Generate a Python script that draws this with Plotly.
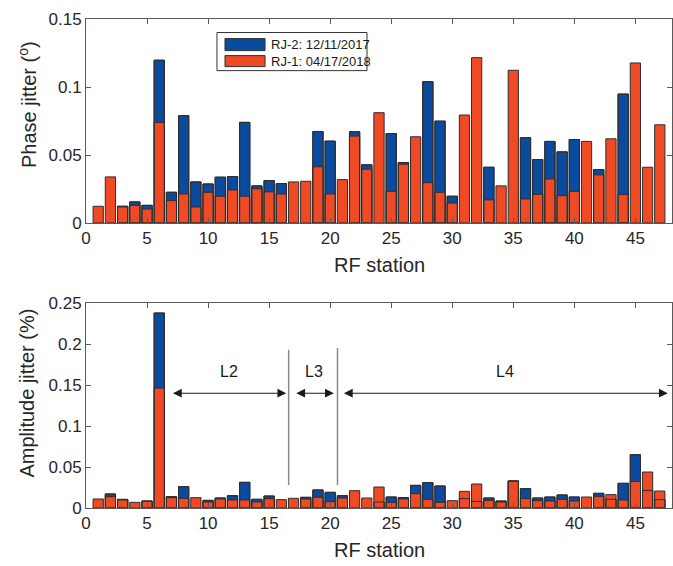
import plotly.graph_objects as go

# RF station numbers
stations = list(range(1, 48))

# Phase jitter (deg) per RF station
phase_rj2 = [None, None, 0.0123, 0.0155, 0.0130, 0.1197, 0.0226, 0.0789, 0.0302, 0.0287,
             0.0337, 0.0342, 0.0740, 0.0273, 0.0312, 0.0290, None, None, 0.0673, 0.0602,
             None, 0.0671, 0.0428, None, 0.0658, 0.0445, None, 0.1039, 0.0749, 0.0197,
             None, None, 0.0410, None, None, 0.0627, 0.0467, 0.0600, 0.0523, 0.0614,
             None, 0.0393, None, 0.0948, None, None, None]
phase_rj1 = [0.0123, 0.0339, 0.0118, 0.0130, 0.0103, 0.0740, 0.0165, 0.0214, 0.0118, 0.0226,
             0.0197, 0.0243, 0.0197, 0.0251, 0.0229, 0.0214, 0.0302, 0.0307, 0.0413, 0.0214,
             0.0319, 0.0639, 0.0396, 0.0811, 0.0233, 0.0432, 0.0634, 0.0297, 0.0226, 0.0147,
             0.0794, 0.1216, 0.0170, 0.0273, 0.1123, 0.0177, 0.0211, 0.0324, 0.0201, 0.0233,
             0.0600, 0.0354, 0.0619, 0.0209, 0.1177, 0.0410, 0.0722]

# Amplitude jitter (%) per RF station
amp_rj2 = [None, 0.0171, 0.0105, None, 0.0085, 0.2378, 0.0138, 0.0260, None, 0.0093,
           0.0122, 0.0150, 0.0313, 0.0106, 0.0146, None, None, 0.0130, 0.0220, 0.0191,
           0.0150, None, None, 0.0073, 0.0134, 0.0126, 0.0276, 0.0309, 0.0268, None,
           0.0114, 0.0081, 0.0122, 0.0085, 0.0325, 0.0236, 0.0122, 0.0134, 0.0159, 0.0134,
           None, 0.0179, 0.0106, 0.0301, 0.0650, 0.0215, 0.0102]
amp_rj1 = [0.0110, 0.0138, 0.0098, 0.0069, 0.0081, 0.1463, 0.0126, 0.0118, 0.0126, 0.0073,
           0.0110, 0.0098, 0.0098, 0.0073, 0.0114, 0.0102, 0.0118, 0.0110, 0.0130, 0.0077,
           0.0122, 0.0211, 0.0122, 0.0256, 0.0069, 0.0110, 0.0175, 0.0106, 0.0069, 0.0089,
           0.0203, 0.0293, 0.0093, 0.0073, 0.0333, 0.0114, 0.0089, 0.0085, 0.0106, 0.0085,
           0.0134, 0.0142, 0.0163, 0.0098, 0.0325, 0.0439, 0.0207]

label_rj2 = "RJ-2: 12/11/2017"
label_rj1 = "RJ-1: 04/17/2018"

# linac sections: name, arrow ends (station units), arrow height
section_names = ["L2", "L3", "L4"]
section_start = [7.0, 17.1, 21.0]
section_end = [16.4, 20.3, 47.65]
section_level = 0.14
# section boundaries
boundary_x = [16.6, 20.6]

BLUE = "#0a4b9f"
ORANGE = "#ef4a23"
EDGE = "#2e2e2e"
AXC = "#5a5a5a"
INK = "#1a1a1a"
TXT = "#262626"
FONT = "Liberation Sans, Arial, Helvetica, sans-serif"
BAR_W = 0.84

fig = go.Figure()


def add_pair(rj2, rj1, xa, ya):
    fig.add_trace(go.Bar(x=stations, y=rj2, width=BAR_W, name=label_rj2, xaxis=xa, yaxis=ya,
                         marker=dict(color=BLUE, line=dict(color=EDGE, width=1)),
                         showlegend=False))
    fig.add_trace(go.Bar(x=stations, y=rj1, width=BAR_W, name=label_rj1, xaxis=xa, yaxis=ya,
                         marker=dict(color=ORANGE, line=dict(color=EDGE, width=1)),
                         showlegend=False))
    # outline of the RJ-2 bars kept visible over the RJ-1 faces
    fig.add_trace(go.Bar(x=stations, y=rj2, width=BAR_W, hoverinfo="skip", xaxis=xa, yaxis=ya,
                         marker=dict(color="rgba(0,0,0,0)", line=dict(color=EDGE, width=1)),
                         showlegend=False))


add_pair(phase_rj2, phase_rj1, "x", "y")
add_pair(amp_rj2, amp_rj1, "x2", "y2")

axis_common = dict(showline=True, mirror="ticks", linecolor=AXC, linewidth=1,
                   ticks="inside", ticklen=5, tickcolor=AXC, showgrid=False,
                   zeroline=False, tickfont=dict(family=FONT, size=17, color=TXT))

fig.update_layout(
    barmode="overlay",
    width=673, height=566,
    margin=dict(l=86, r=1, t=19, b=58),
    paper_bgcolor="white", plot_bgcolor="white",
    font=dict(family=FONT, color=TXT),
    xaxis=dict(domain=[0, 1], range=[0, 48], tickmode="linear", tick0=0, dtick=5,
               anchor="y", **axis_common),
    yaxis=dict(domain=[0.5828, 1], range=[0, 0.15], tickvals=[0, 0.05, 0.1, 0.15],
               ticktext=["0", "0.05", "0.1", "0.15"], anchor="x", **axis_common),
    xaxis2=dict(domain=[0, 1], range=[0, 48], tickmode="linear", tick0=0, dtick=5,
                anchor="y2", **axis_common),
    yaxis2=dict(domain=[0, 0.4192], range=[0, 0.25], tickvals=[0, 0.05, 0.1, 0.15, 0.2, 0.25],
                ticktext=["0", "0.05", "0.1", "0.15", "0.2", "0.25"], anchor="x2",
                **axis_common),
)

ann = []
# axis titles
for yy in (0.5828, 0.0):
    ann.append(dict(text="RF station", xref="paper", yref="paper", x=0.5, y=yy,
                    yshift=-42, xanchor="center", yanchor="middle", showarrow=False,
                    font=dict(family=FONT, size=20, color=TXT)))
ann.append(dict(text="Phase jitter (<sup>o</sup>)", xref="paper", yref="y domain",
                x=-0.1, y=0.58, xanchor="center", yanchor="middle",
                textangle=-90, showarrow=False,
                font=dict(family=FONT, size=20, color=TXT)))
ann.append(dict(text="Amplitude jitter (%)", xref="paper", yref="y2 domain",
                x=-0.1, y=0.56, xanchor="center", yanchor="middle",
                textangle=-90, showarrow=False,
                font=dict(family=FONT, size=20, color=TXT)))

# section labels and double-headed arrows
for name, xa, xb in zip(section_names, section_start, section_end):
    ann.append(dict(x=(xa + xb) / 2, y=0.166, xref="x2", yref="y2", text=name,
                    showarrow=False, font=dict(family=FONT, size=16, color=INK)))
    ann.append(dict(x=xb, y=section_level, ax=xa, ay=section_level,
                    xref="x2", yref="y2", axref="x2", ayref="y2", text="",
                    showarrow=True, arrowside="end+start", arrowhead=2, arrowsize=1.6,
                    arrowwidth=1.1, arrowcolor=INK))

# legend box
legend_items = [(label_rj2, BLUE, 0.904, 0.845, 0.8747), (label_rj1, ORANGE, 0.8206, 0.7666, 0.7936)]
shapes = [dict(type="rect", xref="x domain", yref="y domain", x0=0.2235, x1=0.4795,
               y0=0.7469, y1=0.9337, line=dict(color="#333333", width=1), fillcolor="white")]
for text, col, ya, yb, yt in legend_items:
    shapes.append(dict(type="rect", xref="x domain", yref="y domain", x0=0.2372, x1=0.3055,
                       y0=yb, y1=ya, line=dict(color=EDGE, width=1), fillcolor=col))
    ann.append(dict(text=text, xref="x domain", yref="y domain", x=0.3123, y=yt,
                    xanchor="left", yanchor="middle", showarrow=False,
                    font=dict(family=FONT, size=13, color=INK)))

# segment boundaries
for xv, ytop in zip(boundary_x, (0.193, 0.195)):
    shapes.append(dict(type="line", xref="x2", yref="y2", x0=xv, x1=xv, y0=0.028, y1=ytop,
                       line=dict(color="#8a8a8a", width=1.5)))

fig.update_layout(annotations=ann, shapes=shapes)

fig.write_html("out.html")
